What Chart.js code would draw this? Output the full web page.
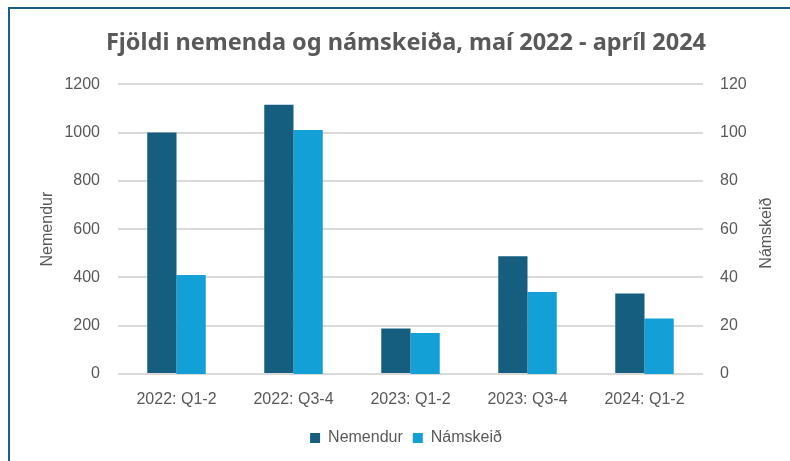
<!DOCTYPE html>
<html>
<head>
<meta charset="utf-8">
<script src="https://cdn.jsdelivr.net/npm/chart.js@4"></script>
<style>
  html, body { margin: 0; padding: 0; background: #fff; }
  #wrap { position: relative; width: 790px; height: 461px; overflow: hidden; }
  #frame { position: absolute; left: 8px; top: 7px; width: 800px; height: 470px;
           border-top: 2px solid #1b5f84; border-left: 2px solid #1b5f84; }
  canvas { position: absolute; left: 0; top: 0; }
</style>
</head>
<body>
<div id="wrap">
  <div id="frame"></div>
  <canvas id="chart" width="790" height="461"></canvas>
</div>
<script>
const periods = ['2022: Q1-2', '2022: Q3-4', '2023: Q1-2', '2023: Q3-4', '2024: Q1-2'];
const nemendur = [1000, 1115, 188, 488, 333];
const namskeid = [41, 101, 17, 34, 23];

const textGray = '#595959';
const gridGray = '#d9d9d9';
const tickFont = { family: 'Liberation Sans', size: 16 };

// right axis title reads bottom-to-top like in Excel, so draw it by hand
const rightTitle = {
  id: 'rightTitle',
  afterDraw(chart) {
    const ctx = chart.ctx;
    const area = chart.chartArea;
    ctx.save();
    ctx.translate(767, (area.top + area.bottom) / 2 + 4);
    ctx.rotate(-Math.PI / 2);
    ctx.fillStyle = textGray;
    ctx.font = '16px "Liberation Sans"';
    ctx.textAlign = 'center';
    ctx.textBaseline = 'middle';
    ctx.fillText('Námskeið', 0, 0);
    ctx.restore();
  }
};

new Chart(document.getElementById('chart').getContext('2d'), {
  type: 'bar',
  data: {
    labels: periods,
    datasets: [
      { label: 'Nemendur', data: nemendur, backgroundColor: '#165e80', yAxisID: 'y' },
      { label: 'Námskeið', data: namskeid, backgroundColor: '#12a0d7', yAxisID: 'y2' }
    ]
  },
  options: {
    responsive: false,
    animation: false,
    categoryPercentage: 0.5,
    barPercentage: 1.0,
    layout: { padding: { left: 22, right: 0, top: 0, bottom: 5 } },
    plugins: {
      title: {
        display: true,
        text: 'Fjöldi nemenda og námskeiða, maí 2022 - apríl 2024',
        color: textGray,
        font: { family: 'Noto Sans', size: 23.5, weight: 'bold' },
        padding: { top: 29, bottom: 27 }
      },
      legend: {
        position: 'bottom',
        labels: {
          color: textGray,
          font: { family: 'Liberation Sans', size: 16 },
          boxWidth: 10,
          boxHeight: 10,
          padding: 10
        }
      },
      tooltip: { enabled: false }
    },
    scales: {
      x: {
        grid: { display: false, drawTicks: false },
        border: { display: false },
        ticks: { color: textGray, font: tickFont, padding: 16 },
        afterFit(s) { s.height = 46; }
      },
      y: {
        position: 'left',
        min: 0, max: 1200,
        ticks: { stepSize: 200, color: textGray, font: tickFont, padding: 18,
                 callback: v => String(v) },
        grid: { color: gridGray, lineWidth: 2, drawTicks: false },
        border: { display: false },
        title: {
          display: true, text: 'Nemendur', color: textGray,
          font: { family: 'Liberation Sans', size: 16 },
          padding: { top: 16, bottom: 0 }
        },
        afterFit(s) { s.width = 96; }
      },
      y2: {
        position: 'right',
        min: 0, max: 120,
        ticks: { stepSize: 20, color: textGray, font: tickFont, padding: 17,
                 callback: v => String(v) },
        grid: { display: false, drawTicks: false },
        border: { display: false },
        afterFit(s) { s.width = 87; }
      }
    }
  },
  plugins: [rightTitle]
});
</script>
</body>
</html>
